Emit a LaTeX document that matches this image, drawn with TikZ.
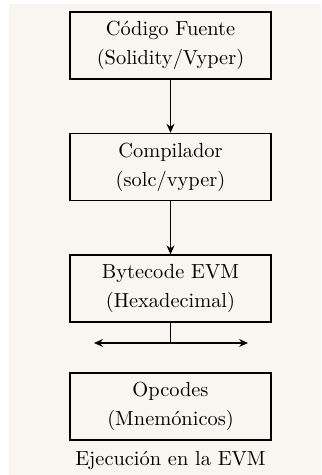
\documentclass[tikz,border=0pt]{standalone}
\usepackage{amsmath}
\usepackage{tikz}
\usetikzlibrary{positioning,arrows.meta}

\definecolor{paper}{RGB}{249,246,242}

\tikzset{
  stagebox/.style={draw, thick, minimum width=102.5pt, minimum height=34.2pt,
    align=center, inner sep=2pt, font=\fontsize{10.4pt}{15pt}\selectfont},
  flow/.style={thick, -{Stealth[length=4.5pt,width=4pt]}}
}

\begin{document}
\begin{tikzpicture}[x=0.51pt, y=-0.51pt, node distance=27pt]
  \useasboundingbox (0,0) rectangle (321,475);
  \fill[white] (0,0) rectangle (321,475);
  \fill[paper] (9,4) rectangle (321,475);

  \node[stagebox] (fuente) at (170.5,45.5) {C\'odigo Fuente\\(Solidity/Vyper)};
  \node[stagebox, below=of fuente] (compilador) {Compilador\\(solc/vyper)};
  \node[stagebox, below=of compilador] (bytecode) {Bytecode EVM\\(Hexadecimal)};
  \node[stagebox, below=25pt of bytecode] (opcodes) {Opcodes\\(Mnem\'onicos)};
  \node[below=2pt of opcodes, font=\fontsize{10.4pt}{15pt}\selectfont] (ejecucion) {Ejecuci\'on en la EVM};

  \draw[flow] (fuente) -- (compilador);
  \draw[flow] (compilador) -- (bytecode);

  % split towards both sides
  \coordinate (split) at (170.5,343);
  \coordinate (izq) at (94,343);
  \coordinate (der) at (248,343);
  \draw[thick] (bytecode) -- (split);
  \draw[thick, {Stealth[length=4.5pt,width=4pt]}-{Stealth[length=4.5pt,width=4pt]}] (izq) -- (der);
\end{tikzpicture}
\end{document}
